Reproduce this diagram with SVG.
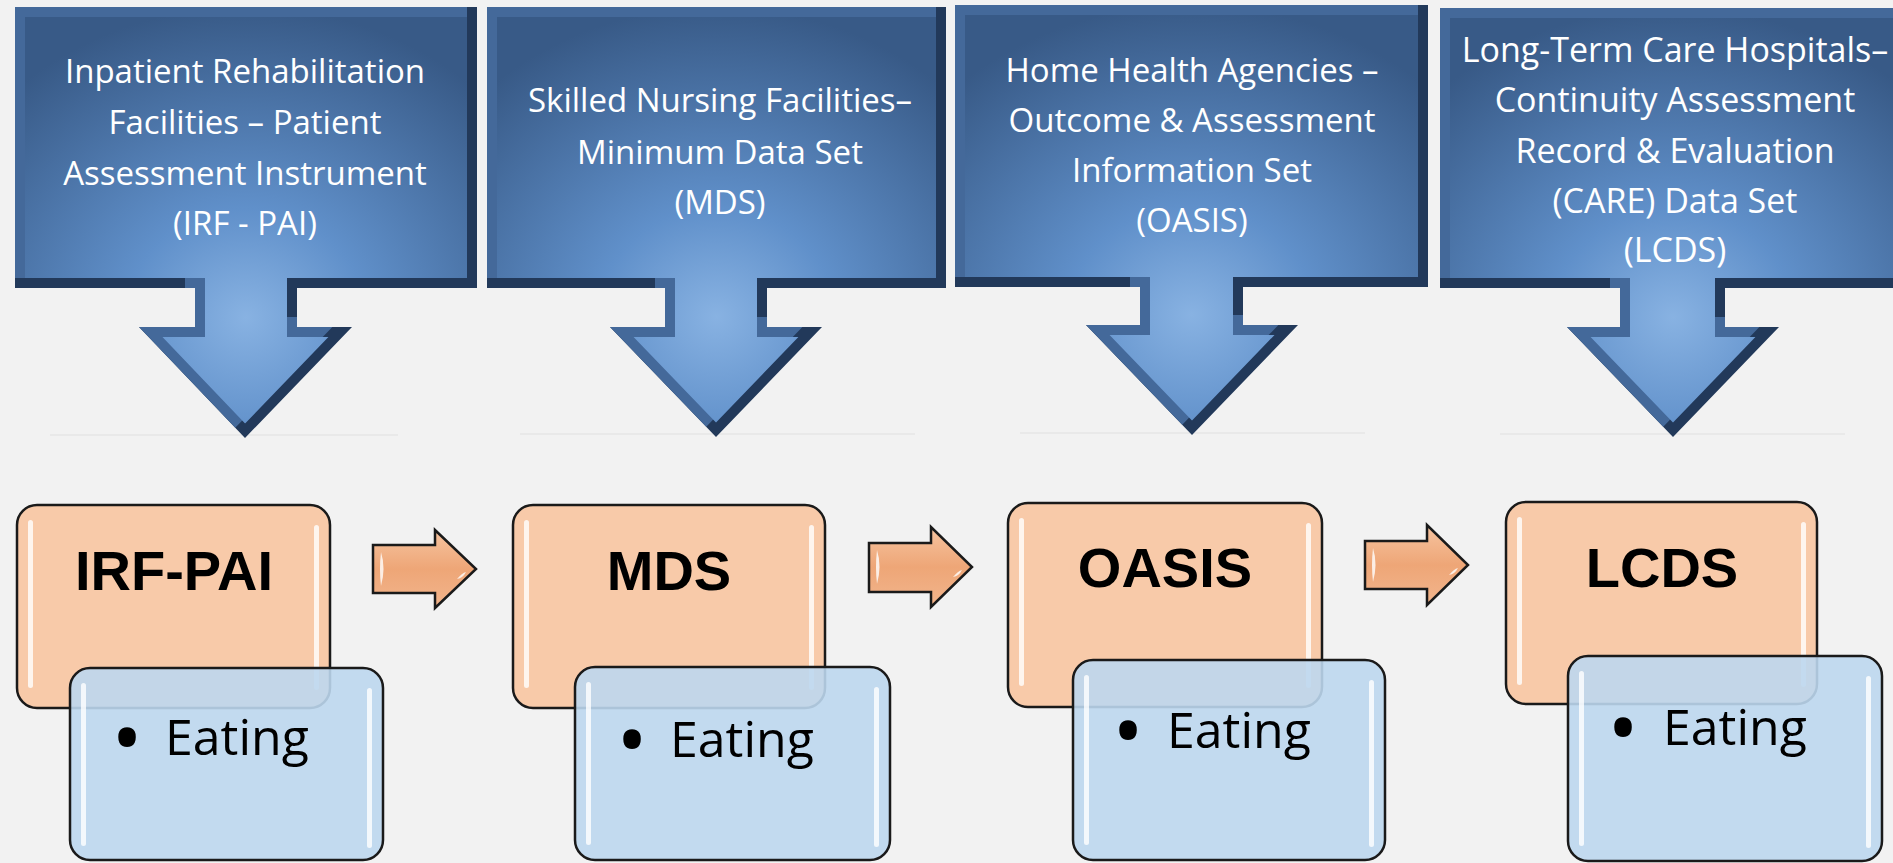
<svg xmlns="http://www.w3.org/2000/svg" xmlns:xlink="http://www.w3.org/1999/xlink" width="1893" height="863" viewBox="0 0 1893 863">
<style>
.ct{font-family:"Open Sans","Noto Sans","Liberation Sans",sans-serif;font-size:33px;fill:#ffffff;text-anchor:middle}
.ttl{font-family:"Liberation Sans",Arial,sans-serif;font-weight:bold;font-size:56px;fill:#000;text-anchor:middle}
.eat{font-family:"Open Sans","Noto Sans","Liberation Sans",sans-serif;font-size:50px;fill:#000}
.bul{font-family:"Open Sans","Noto Sans","Liberation Sans",sans-serif;font-size:84px;fill:#000;text-anchor:middle}
.ob{fill:#f8caa9;stroke:#1a1a1a;stroke-width:2.5}
.bb{fill:#bdd7ee;fill-opacity:0.9;stroke:#1a1a1a;stroke-width:2.5}
.hl{fill:#ffffff;opacity:0.8}
.oa{fill:url(#og);stroke:#1a1a1a;stroke-width:2.5;stroke-linejoin:miter}
.dk{fill:#22395a}
.lt{fill:#44699a}
.face{fill:url(#fg)}
.refl{fill:#e9e9e9}
</style>
<defs>
<radialGradient id="fg" cx="0.5" cy="0.75" r="0.75" fx="0.5" fy="0.72">
<stop offset="0" stop-color="#88b2e2"/>
<stop offset="0.35" stop-color="#6090ca"/>
<stop offset="1" stop-color="#385a87"/>
</radialGradient>
<linearGradient id="og" x1="0" y1="0" x2="0" y2="1">
<stop offset="0" stop-color="#f6c4a0"/>
<stop offset="0.5" stop-color="#eea677"/>
<stop offset="1" stop-color="#f2b58c"/>
</linearGradient>
<path id="s1" d="M15,7 H477 V288 H297 V327 H352 L245,438 L139,327 H195 V288 H15 Z"/>
<path id="s2" d="M487,7 H946 V288 H767 V327 H822 L716,437 L610,327 H665 V288 H487 Z"/>
<path id="s3" d="M955,5 H1428 V287 H1243 V325 H1298 L1192,435 L1086,325 H1140 V287 H955 Z"/>
<path id="s4" d="M1440,8 H1906 V288 H1725 V327 H1779 L1673,437 L1567,327 H1620 V288 H1440 Z"/>
<clipPath id="k1"><use xlink:href="#s1"/></clipPath>
<clipPath id="k2"><use xlink:href="#s2"/></clipPath>
<clipPath id="k3"><use xlink:href="#s3"/></clipPath>
<clipPath id="k4"><use xlink:href="#s4"/></clipPath>
<mask id="m1" maskUnits="userSpaceOnUse" x="0" y="0" width="1893" height="863"><use xlink:href="#s1" fill="#fff" stroke="#000" stroke-width="20"/></mask>
<mask id="m2" maskUnits="userSpaceOnUse" x="0" y="0" width="1893" height="863"><use xlink:href="#s2" fill="#fff" stroke="#000" stroke-width="20"/></mask>
<mask id="m3" maskUnits="userSpaceOnUse" x="0" y="0" width="1893" height="863"><use xlink:href="#s3" fill="#fff" stroke="#000" stroke-width="20"/></mask>
<mask id="m4" maskUnits="userSpaceOnUse" x="0" y="0" width="1893" height="863"><use xlink:href="#s4" fill="#fff" stroke="#000" stroke-width="20"/></mask>
</defs>
<rect x="0" y="0" width="1893" height="863" fill="#f2f2f2"/>

<g id="reflections">
<rect class="refl" x="50" y="434" width="348" height="2"/>
<rect class="refl" x="520" y="433" width="395" height="2"/>
<rect class="refl" x="1020" y="432" width="345" height="2"/>
<rect class="refl" x="1500" y="433" width="345" height="2"/>
</g>

<g id="callout-irf">
<use xlink:href="#s1" class="dk"/>
<g clip-path="url(#k1)"><use xlink:href="#s1" class="lt" transform="translate(-10,-10)"/></g>
<use xlink:href="#s1" class="face" mask="url(#m1)"/>
<text class="ct" x="245" y="83">Inpatient Rehabilitation</text>
<text class="ct" x="245" y="134">Facilities – Patient</text>
<text class="ct" x="245" y="185">Assessment Instrument</text>
<text class="ct" x="245" y="235">(IRF - PAI)</text>
</g>

<g id="callout-mds">
<use xlink:href="#s2" class="dk"/>
<g clip-path="url(#k2)"><use xlink:href="#s2" class="lt" transform="translate(-10,-10)"/></g>
<use xlink:href="#s2" class="face" mask="url(#m2)"/>
<text class="ct" x="720" y="112">Skilled Nursing Facilities–</text>
<text class="ct" x="720" y="164">Minimum Data Set</text>
<text class="ct" x="720" y="214">(MDS)</text>
</g>

<g id="callout-oasis">
<use xlink:href="#s3" class="dk"/>
<g clip-path="url(#k3)"><use xlink:href="#s3" class="lt" transform="translate(-10,-10)"/></g>
<use xlink:href="#s3" class="face" mask="url(#m3)"/>
<text class="ct" x="1192" y="82">Home Health Agencies –</text>
<text class="ct" x="1192" y="132">Outcome &amp; Assessment</text>
<text class="ct" x="1192" y="182">Information Set</text>
<text class="ct" x="1192" y="232">(OASIS)</text>
</g>

<g id="callout-lcds">
<use xlink:href="#s4" class="dk"/>
<g clip-path="url(#k4)"><use xlink:href="#s4" class="lt" transform="translate(-10,-10)"/></g>
<use xlink:href="#s4" class="face" mask="url(#m4)"/>
<text class="ct" x="1675" y="62" style="font-size:34px">Long-Term Care Hospitals–</text>
<text class="ct" x="1675" y="112" style="font-size:34px">Continuity Assessment</text>
<text class="ct" x="1675" y="163" style="font-size:34px">Record &amp; Evaluation</text>
<text class="ct" x="1675" y="213" style="font-size:34px">(CARE) Data Set</text>
<text class="ct" x="1675" y="262" style="font-size:34px">(LCDS)</text>
</g>

<g id="connectors">
<path class="oa" d="M373,545 H435 V530 L476,569 L435,608 V593 H373 Z"/>
<path class="hl" d="M381,552 q5,16 0,34 q-2,-17 0,-34 Z"/>
<path class="hl" d="M457,579 q5,-6 9,-7 q-3,6 -9,7 Z"/>
<path class="oa" d="M869,543 H931 V527 L972,567 L931,607 V592 H869 Z"/>
<path class="hl" d="M877,550 q5,16 0,34 q-2,-17 0,-34 Z"/>
<path class="hl" d="M953,577 q5,-6 9,-7 q-3,6 -9,7 Z"/>
<path class="oa" d="M1365,541 H1427 V525 L1468,565 L1427,605 V589 H1365 Z"/>
<path class="hl" d="M1373,548 q5,16 0,34 q-2,-17 0,-34 Z"/>
<path class="hl" d="M1449,575 q5,-6 9,-7 q-3,6 -9,7 Z"/>
</g>

<g id="node-irf">
<rect class="ob" x="17" y="505" width="313" height="203" rx="20"/>
<rect class="hl" x="28" y="520" width="5" height="168" rx="2.5"/>
<rect class="hl" x="314" y="525" width="5" height="165" rx="2.5"/>
<text class="ttl" x="174" y="590">IRF-PAI</text>
<rect class="bb" x="70" y="668" width="313" height="192" rx="20"/>
<rect class="hl" x="81" y="683" width="5" height="163" rx="2.5"/>
<rect class="hl" x="367" y="688" width="5" height="160" rx="2.5"/>
<text class="bul" x="127" y="768">•</text>
<text class="eat" x="165" y="755">Eating</text>
</g>

<g id="node-mds">
<rect class="ob" x="513" y="505" width="312" height="203" rx="20"/>
<rect class="hl" x="524" y="520" width="5" height="168" rx="2.5"/>
<rect class="hl" x="809" y="525" width="5" height="165" rx="2.5"/>
<text class="ttl" x="669" y="590">MDS</text>
<rect class="bb" x="575" y="667" width="315" height="193" rx="20"/>
<rect class="hl" x="586" y="682" width="5" height="163" rx="2.5"/>
<rect class="hl" x="874" y="687" width="5" height="160" rx="2.5"/>
<text class="bul" x="632" y="770">•</text>
<text class="eat" x="670" y="757">Eating</text>
</g>

<g id="node-oasis">
<rect class="ob" x="1008" y="503" width="314" height="204" rx="20"/>
<rect class="hl" x="1019" y="518" width="5" height="168" rx="2.5"/>
<rect class="hl" x="1306" y="523" width="5" height="165" rx="2.5"/>
<text class="ttl" x="1165" y="587">OASIS</text>
<rect class="bb" x="1073" y="660" width="312" height="200" rx="20"/>
<rect class="hl" x="1084" y="675" width="5" height="170" rx="2.5"/>
<rect class="hl" x="1369" y="680" width="5" height="167" rx="2.5"/>
<text class="bul" x="1128" y="761">•</text>
<text class="eat" x="1167" y="748">Eating</text>
</g>

<g id="node-lcds">
<rect class="ob" x="1506" y="502" width="311" height="202" rx="20"/>
<rect class="hl" x="1517" y="517" width="5" height="168" rx="2.5"/>
<rect class="hl" x="1801" y="522" width="5" height="165" rx="2.5"/>
<text class="ttl" x="1662" y="587">LCDS</text>
<rect class="bb" x="1568" y="656" width="314" height="205" rx="20"/>
<rect class="hl" x="1579" y="671" width="5" height="175" rx="2.5"/>
<rect class="hl" x="1866" y="676" width="5" height="172" rx="2.5"/>
<text class="bul" x="1623" y="758">•</text>
<text class="eat" x="1663" y="745">Eating</text>
</g>
</svg>
